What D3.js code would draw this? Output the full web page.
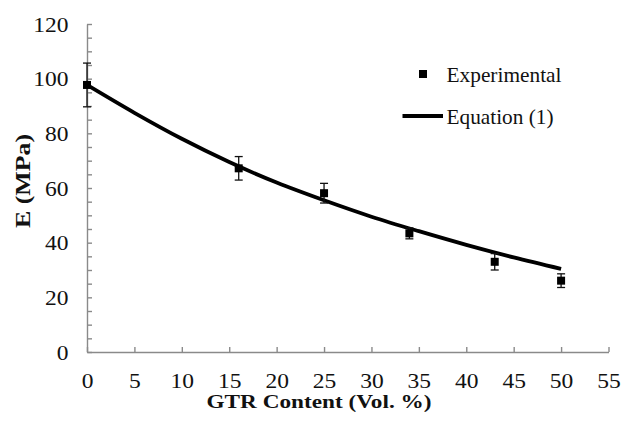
<!DOCTYPE html>
<html>
<head>
<meta charset="utf-8">
<script src="https://cdn.jsdelivr.net/npm/d3@7/dist/d3.min.js"></script>
<style>
  html, body { margin: 0; padding: 0; background: #fff; }
  svg { display: block; }
  text { font-family: "Liberation Serif", "Times New Roman", serif; fill: #111; }
</style>
</head>
<body>
<svg id="chart" width="621" height="425"></svg>
<script>
// Measured elastic modulus vs GTR content
const gtrContent = [0, 16, 25, 34, 43, 50];
const modulus    = [97.7, 67.2, 58.1, 43.4, 33.0, 26.1];
const modulusErr = [8.0, 4.3, 3.6, 2.0, 3.0, 2.5];

// Equation (1) curve, sampled along GTR content
const eqContent = [0, 5, 10, 15, 20, 25, 30, 35, 40, 45, 50];
const eqModulus = [97.7, 87.5, 78.0, 69.5, 62.0, 55.5, 49.5, 44.2, 39.2, 34.6, 30.4];

// Axis ticks
const xTicks = [0, 5, 10, 15, 20, 25, 30, 35, 40, 45, 50, 55];
const yTicks = [0, 5, 10, 15, 20, 25, 30, 35, 40, 45, 50, 55, 60, 65, 70, 75, 80, 85, 90, 95, 100, 105, 110, 115, 120];
const yLabelled = [0, 20, 40, 60, 80, 100, 120];

const legendLabels = ["Experimental", "Equation (1)"];

const svg = d3.select("#chart");
const x = d3.scaleLinear().domain([0, 55]).range([87, 608.5]);
const y = d3.scaleLinear().domain([0, 120]).range([352, 24]);
const axisColor = "#8a8a8a";
const stretch = "scale(1.12,1)";

// X axis, ticks pointing inward
const gx = svg.append("g").attr("transform", `translate(0,${y(0)})`)
  .call(d3.axisBottom(x).tickValues(xTicks).tickSizeInner(-5).tickSizeOuter(0).tickPadding(21));
gx.selectAll("path, line").attr("stroke", axisColor).attr("stroke-width", 1.4);
gx.selectAll("text").attr("font-size", 21).attr("font-family", "Liberation Serif")
  .attr("fill", "#111").attr("transform", stretch);

// Y axis, minor ticks every 5, labels every 20
const gy = svg.append("g").attr("transform", `translate(${x(0)},0)`)
  .call(d3.axisLeft(y).tickValues(yTicks).tickSizeInner(-5).tickSizeOuter(0).tickPadding(16.5)
    .tickFormat(d => yLabelled.includes(d) ? d : ""));
gy.selectAll("path, line").attr("stroke", axisColor).attr("stroke-width", 1.4);
gy.selectAll("text").attr("font-size", 21).attr("font-family", "Liberation Serif")
  .attr("fill", "#111").attr("dy", "0.34em").attr("transform", stretch);

// Axis titles
svg.append("text").attr("x", 319).attr("y", 407.5)
  .attr("text-anchor", "middle").attr("font-size", 19).attr("font-weight", "bold")
  .attr("textLength", 225).attr("lengthAdjust", "spacingAndGlyphs")
  .text("GTR Content (Vol. %)");
svg.append("text").attr("transform", "translate(30,181) rotate(-90)")
  .attr("text-anchor", "middle").attr("font-size", 21).attr("font-weight", "bold")
  .attr("textLength", 94).attr("lengthAdjust", "spacingAndGlyphs")
  .text("E (MPa)");

// Equation (1) curve
const eqData = eqContent.map((c, i) => [c, eqModulus[i]]);
svg.append("path").datum(eqData)
  .attr("fill", "none").attr("stroke", "#000").attr("stroke-width", 3.8)
  .attr("d", d3.line().x(d => x(d[0])).y(d => y(d[1])).curve(d3.curveMonotoneX));

// Experimental points with error bars
const pts = gtrContent.map((c, i) => ({ c, v: modulus[i], e: modulusErr[i] }));
const eb = svg.append("g").attr("stroke", "#111").attr("stroke-width", 1.3);
pts.forEach(p => {
  const cx = x(p.c), y1 = y(p.v + p.e), y2 = y(p.v - p.e);
  eb.append("line").attr("x1", cx).attr("x2", cx).attr("y1", y1).attr("y2", y2);
  eb.append("line").attr("x1", cx - 4).attr("x2", cx + 4).attr("y1", y1).attr("y2", y1);
  eb.append("line").attr("x1", cx - 4).attr("x2", cx + 4).attr("y1", y2).attr("y2", y2);
});
svg.append("g").selectAll("rect").data(pts).join("rect")
  .attr("x", d => x(d.c) - 4).attr("y", d => y(d.v) - 4)
  .attr("width", 8).attr("height", 8).attr("fill", "#000");

// Legend
const lg = svg.append("g");
lg.append("rect").attr("x", 419).attr("y", 70).attr("width", 8).attr("height", 8).attr("fill", "#000");
lg.append("text").attr("x", 446.5).attr("y", 82).attr("font-size", 21)
  .attr("textLength", 115).attr("lengthAdjust", "spacingAndGlyphs").text(legendLabels[0]);
lg.append("line").attr("x1", 402.5).attr("x2", 443).attr("y1", 116).attr("y2", 116)
  .attr("stroke", "#000").attr("stroke-width", 3.8);
lg.append("text").attr("x", 446.5).attr("y", 124).attr("font-size", 21)
  .attr("textLength", 107).attr("lengthAdjust", "spacingAndGlyphs").text(legendLabels[1]);
</script>
</body>
</html>
